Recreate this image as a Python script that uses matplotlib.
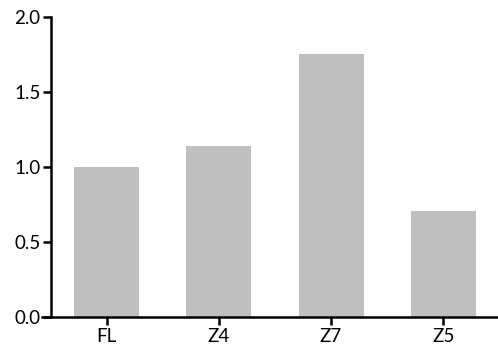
import matplotlib.pyplot as plt

# Данные
groups = ["FL", "Z4", "Z7", "Z5"]
values = [1.0, 1.14, 1.75, 0.71]
y_ticks = [0.0, 0.5, 1.0, 1.5, 2.0]

plt.rcParams['font.family'] = ['Lato', 'DejaVu Sans']

fig = plt.figure(figsize=(4.98, 3.52), dpi=100)
ax = fig.add_axes([0.084, 0.099, 0.914, 0.853])

x = list(range(len(groups)))
ax.bar(x, values, width=0.58, color='#bfbfbf', zorder=2)

ax.set_xlim(-0.58, 3.48)
ax.set_ylim(0, 2.0)
ax.set_xticks(x)
ax.set_xticklabels(groups)
ax.set_yticks(y_ticks)
ax.set_yticklabels([f"{v:.1f}" for v in y_ticks])

# оси в стиле Prism: левая ось смещена внутрь
ax.spines['top'].set_visible(False)
ax.spines['right'].set_visible(False)
ax.spines['left'].set_position(('data', -0.5))
for s in ('left', 'bottom'):
    ax.spines[s].set_linewidth(1.8)
ax.tick_params(axis='both', width=1.8, length=6, labelsize=13.5, pad=1.5, colors='black')

fig.savefig("out.png", dpi=100)
